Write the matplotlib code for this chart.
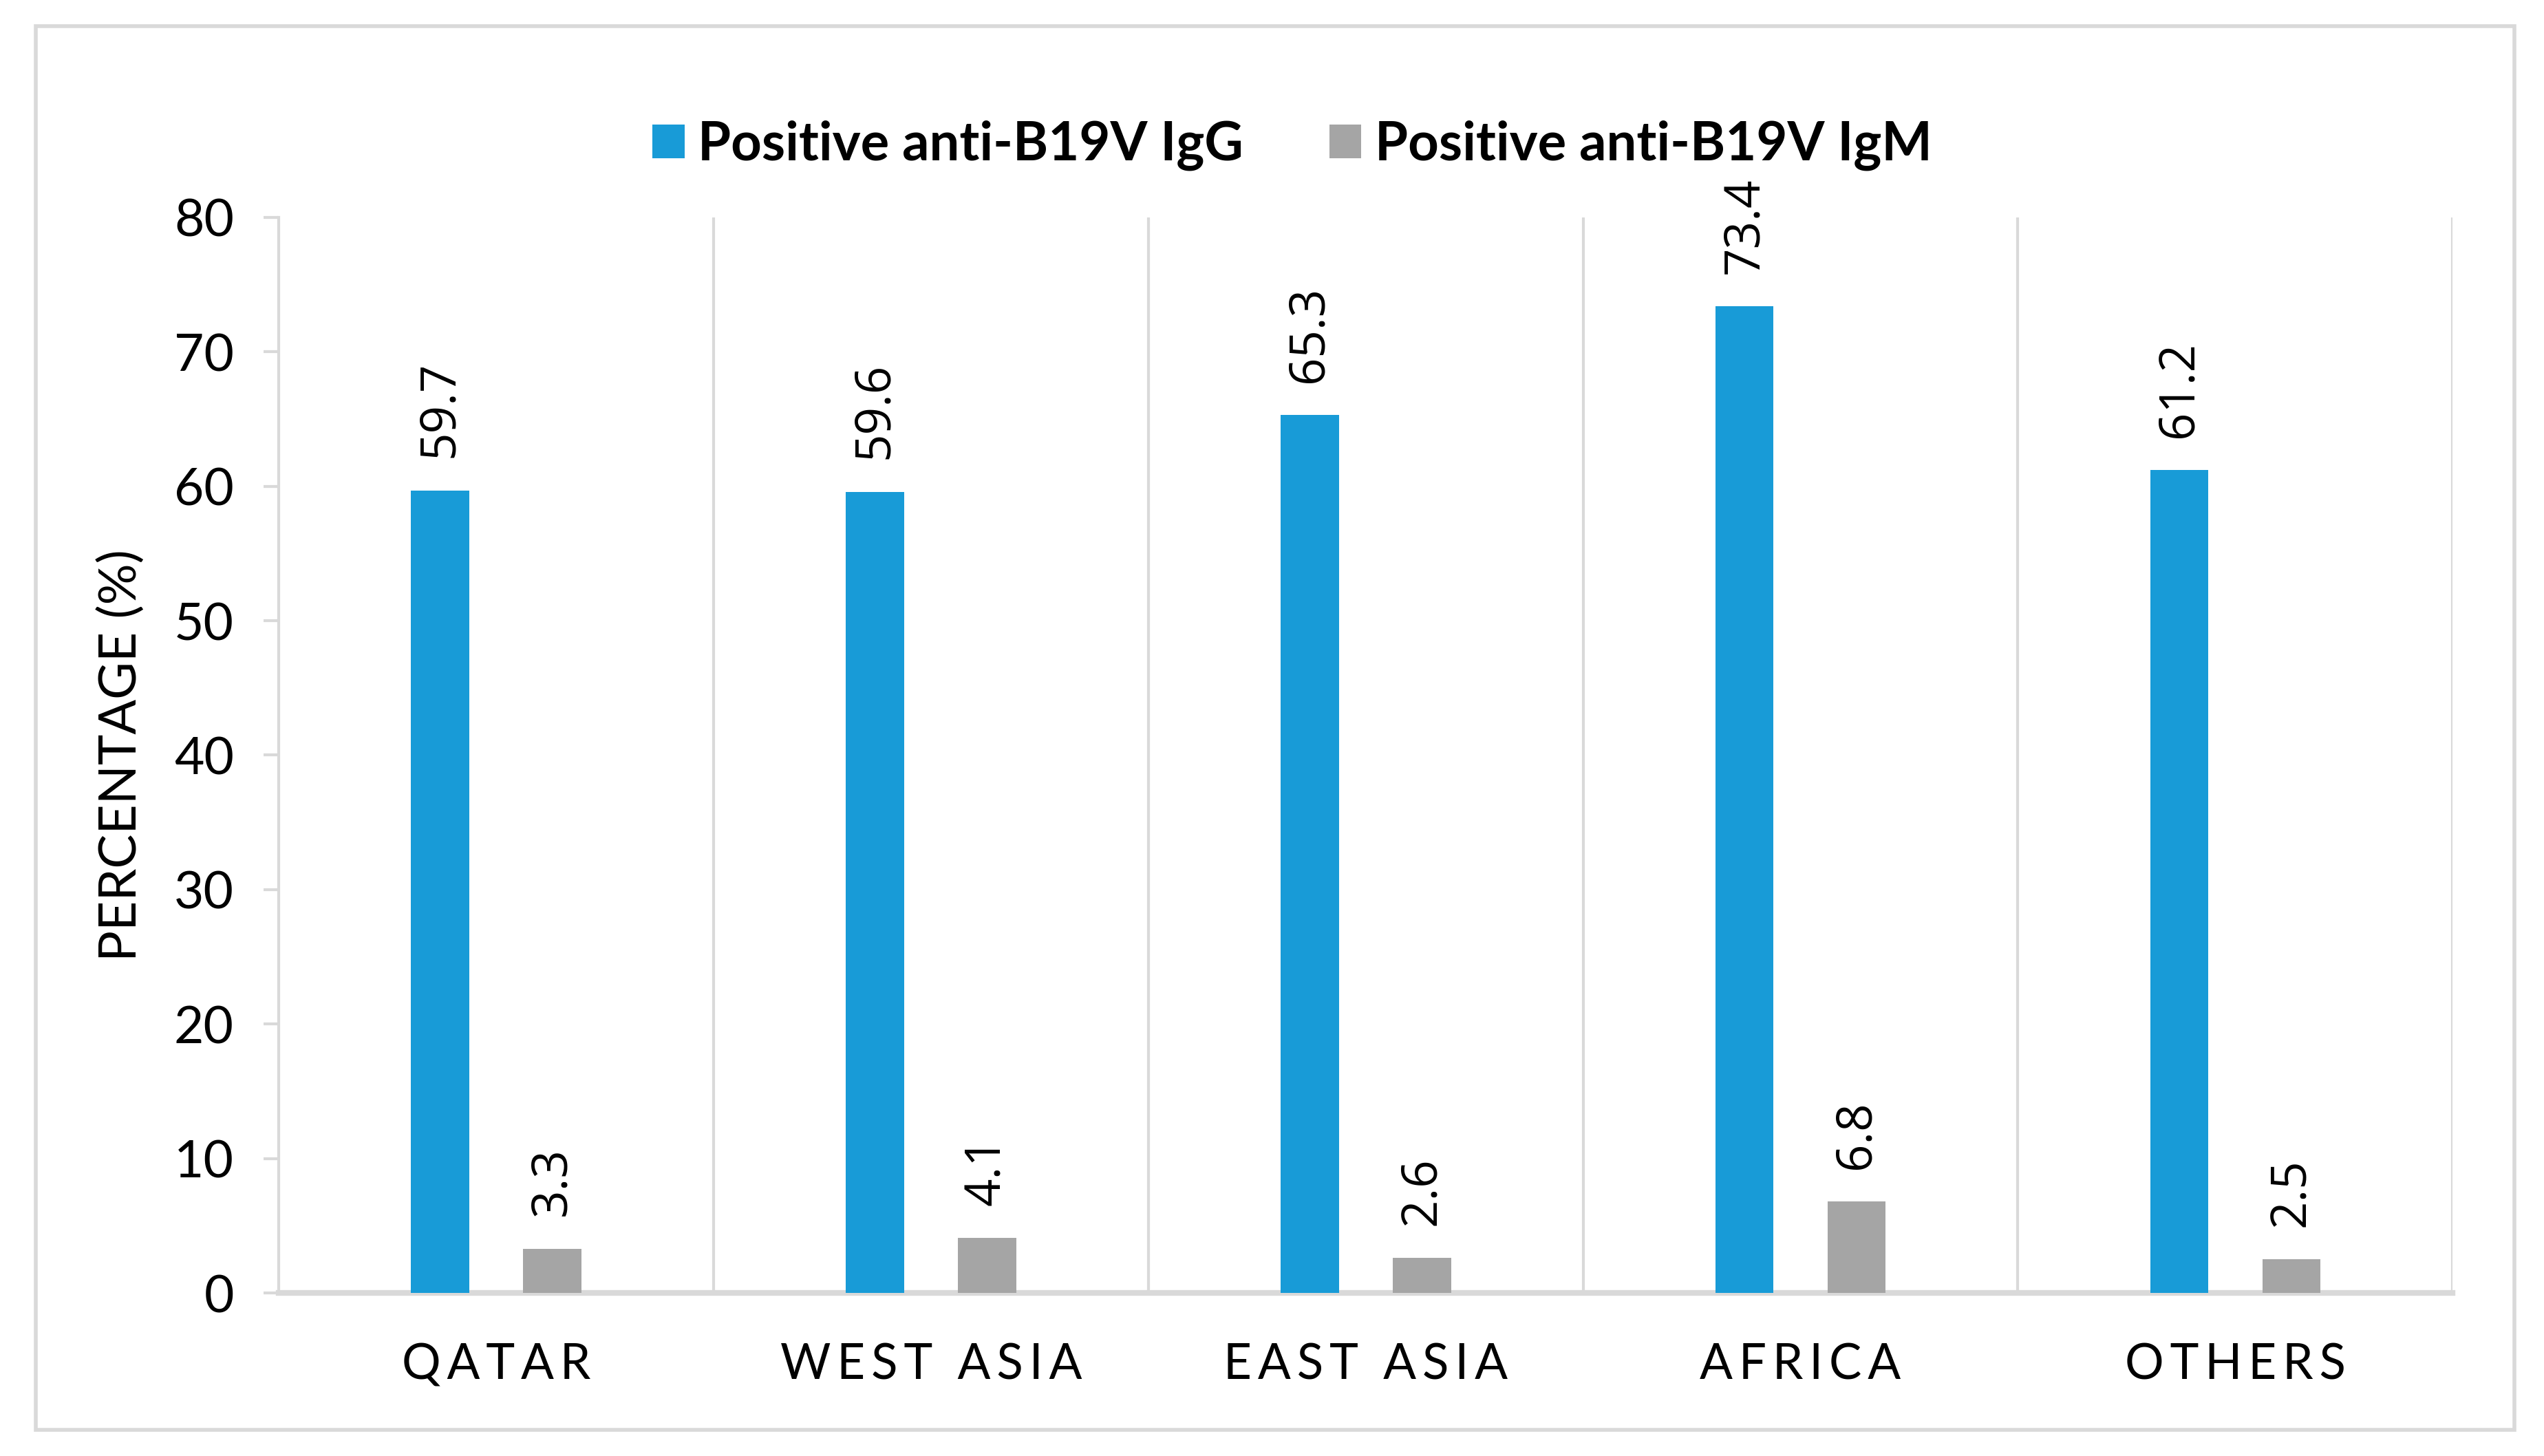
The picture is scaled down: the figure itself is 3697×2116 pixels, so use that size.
import matplotlib
matplotlib.use("Agg")
import matplotlib.pyplot as plt
from matplotlib.patches import Rectangle
import numpy as np

categories = ["QATAR", "WEST ASIA", "EAST ASIA", "AFRICA", "OTHERS"]
igg = [59.7, 59.6, 65.3, 73.4, 61.2]
igm = [3.3, 4.1, 2.6, 6.8, 2.5]
series_names = ["Positive anti-B19V IgG", "Positive anti-B19V IgM"]
yticks = [0, 10, 20, 30, 40, 50, 60, 70, 80]

BLUE = "#189BD7"
GRAY = "#A5A5A5"
LINE = "#D9D9D9"

plt.rcParams['font.family'] = ['Lato', 'DejaVu Sans']

fig = plt.figure(figsize=(36.97, 21.16), dpi=100)
fig.patches.append(Rectangle((0.014, 0.018), 0.9745, 0.964, transform=fig.transFigure,
                             fill=False, edgecolor=LINE, linewidth=4))
ax = fig.add_axes([0.1096, 0.112, 0.8545, 0.7387])

x = np.arange(len(categories))
w = 0.134
off = 0.129
b1 = ax.bar(x - off, igg, w, color=BLUE, label=series_names[0], zorder=3)
b2 = ax.bar(x + off, igm, w, color=GRAY, label=series_names[1], zorder=3)

for bars, vals in ((b1, igg), (b2, igm)):
    for rect, v in zip(bars, vals):
        ax.annotate(f"{v:.1f}", (rect.get_x() + rect.get_width() / 2, v),
                    xytext=(0, 34), textcoords="offset points",
                    rotation=90, ha="center", va="bottom", fontsize=51,
                    family=['Open Sans', 'DejaVu Sans'])

ax.set_xlim(-0.5, len(categories) - 0.5)
ax.set_ylim(0, 80)
ax.set_yticks(yticks)
ax.set_yticklabels([str(t) for t in yticks], fontsize=54)
ax.tick_params(axis='y', length=16, width=3, color=LINE, pad=31)

for xs in np.arange(0.5, len(categories) - 0.5 + 0.01, 1.0):
    ax.axvline(xs, color=LINE, linewidth=3, zorder=1)

ax.set_xticks(x)
spaced = ["\u2009".join(list(c)).replace("\u2009 \u2009", "  ") for c in categories]
ax.set_xticklabels(spaced, fontsize=51)
ax.tick_params(axis='x', length=0, pad=52)

for s in ("top", "right"):
    ax.spines[s].set_visible(False)
ax.spines["left"].set_color(LINE)
ax.spines["left"].set_linewidth(3)
ax.spines["bottom"].set_color(LINE)
ax.spines["bottom"].set_linewidth(6)

ax.set_ylabel("PERCENTAGE (%)", fontsize=54, labelpad=30)

leg = fig.legend(handles=[b1, b2], labels=series_names, loc="center",
                 bbox_to_anchor=(0.508, 0.9), ncol=2, frameon=False,
                 prop={'size': 56, 'weight': 'bold'}, handlelength=0.6,
                 handleheight=0.6, handletextpad=0.25, columnspacing=1.6)

fig.savefig("out.png", dpi=100, facecolor="white")
